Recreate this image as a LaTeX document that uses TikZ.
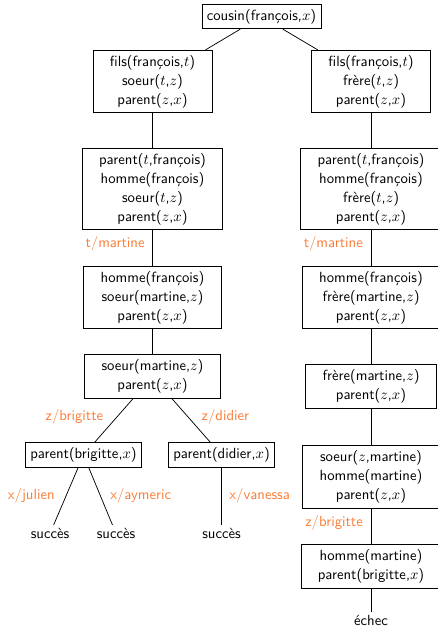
\documentclass[tikz,border=0pt]{standalone}
\definecolor{subst}{RGB}{250,125,55}
\begin{document}
\begin{tikzpicture}[x=0.68pt,y=-0.68pt,font=\sffamily,
  goal/.style={draw,align=center,line width=0.5pt,
    font=\fontsize{10}{12.9}\selectfont\sffamily},
  multi/.style={goal,inner xsep=11.5pt},
  leaf/.style={inner sep=2pt,anchor=base},
  lab/.style={text=subst,font=\sffamily},
  every path/.style={line width=0.5pt}]
\useasboundingbox (0,0) rectangle (438,627);

% root goal
\node[goal] (c) at (261.5,16.5) {cousin(françois,$x$)};

% left branch: fils + soeur
\node[multi] (l2) at (152.5,81.5) {fils(françois,$t$)\\soeur($t$,$z$)\\parent($z$,$x$)};
\node[multi] (l3) at (152.5,189) {parent($t$,françois)\\homme(françois)\\soeur($t$,$z$)\\parent($z$,$x$)};
\node[multi] (l4) at (152.5,297.5) {homme(françois)\\soeur(martine,$z$)\\parent($z$,$x$)};
\node[multi] (l5) at (152.5,376.5) {soeur(martine,$z$)\\parent($z$,$x$)};
\node[goal] (pb) at (83.5,455) {parent(brigitte,$x$)};
\node[goal] (pd) at (221.5,455) {parent(didier,$x$)};
\node[leaf] (s1) at (50,538.5) {succès};
\node[leaf] (s2) at (116,538.5) {succès};
\node[leaf] (s3) at (221.5,538.5) {succès};

% right branch: fils + frère
\node[multi] (r2) at (371,81.5) {fils(françois,$t$)\\frère($t$,$z$)\\parent($z$,$x$)};
\node[multi] (r3) at (371,189) {parent($t$,françois)\\homme(françois)\\frère($t$,$z$)\\parent($z$,$x$)};
\node[multi] (r4) at (371,297.5) {homme(françois)\\frère(martine,$z$)\\parent($z$,$x$)};
\node[multi] (r5) at (371,386.5) {frère(martine,$z$)\\parent($z$,$x$)};
\node[multi] (r6) at (371,477) {soeur($z$,martine)\\homme(martine)\\parent($z$,$x$)};
\node[multi] (r7) at (371,566.5) {homme(martine)\\parent(brigitte,$x$)};
\node[leaf] (ec) at (371,625.3) {échec};

% resolution edges
\draw (c) -- (l2);
\draw (c) -- (r2);
\draw (l2) -- (l3);
\draw (l3) -- node[lab,left,xshift=-1.8pt,yshift=2.7pt] {t/martine} (l4);
\draw (l4) -- (l5);
\draw (l5) -- node[lab,left,xshift=-3.7pt,yshift=2.7pt] {z/brigitte} (pb);
\draw (l5) -- node[lab,right,xshift=3.6pt,yshift=2.7pt] {z/didier} (pd);
\draw (pb) -- node[lab,left,xshift=-4pt] {x/julien} (s1);
\draw (pb) -- node[lab,right,xshift=3pt] {x/aymeric} (s2);
\draw (pd) -- node[lab,right,xshift=1.8pt] {x/vanessa} (s3);

\draw (r2) -- (r3);
\draw (r3) -- node[lab,left,xshift=-2pt,yshift=2.7pt] {t/martine} (r4);
\draw (r4) -- (r5);
\draw (r5) -- (r6);
\draw (r6) -- node[lab,left,xshift=-2pt,yshift=2.7pt] {z/brigitte} (r7);
\draw (r7) -- (ec);
\end{tikzpicture}
\end{document}
